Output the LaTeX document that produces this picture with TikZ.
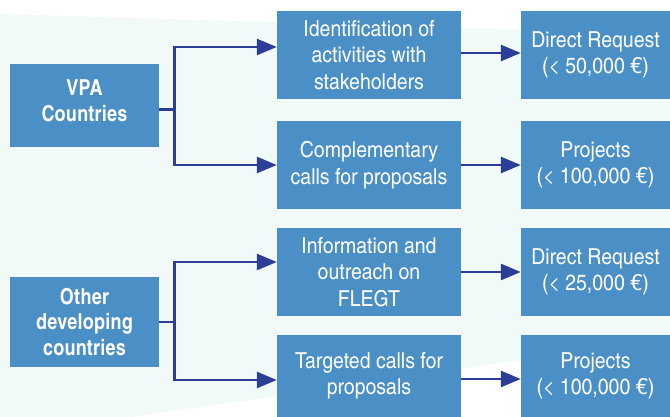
\documentclass[tikz,border=0pt]{standalone}
\usepackage{fontspec}
\setmainfont{texgyreheroscn-regular.otf}[FakeStretch=1.08]
\newfontfamily\leadfont{texgyreheroscn-bold.otf}[LetterSpace=1]
\usepackage{xcolor}
\usepackage{tikz}
\usetikzlibrary{calc,arrows.meta,positioning}
\definecolor{pale}{HTML}{F1F9F9}
\definecolor{boxblue}{HTML}{4A8FC5}
\definecolor{linkblue}{HTML}{2C3E98}
\tikzset{
  box/.style={fill=boxblue, text=white, align=center, inner sep=0pt,
    font=\fontsize{22pt}{26.5pt}\selectfont},
  lead/.style={box, minimum width=149pt, font=\leadfont\fontsize{22pt}{25.5pt}\selectfont},
  mid/.style={box, minimum width=184pt, minimum height=88pt},
  res/.style={box, minimum width=149pt, minimum height=88pt},
  link/.style={draw=linkblue, line width=2.6pt, line join=miter},
  tip/.style={link, -{Triangle[length=20pt,width=16pt]}},
}

\begin{document}
\begin{tikzpicture}[x=1pt,y=-1pt]
  \useasboundingbox (0,0) rectangle (670,417);
  \fill[pale] (0,14) -- (670,34) -- (670,338) -- (133,417) -- (0,417) -- cycle;
  % left column
  \node[lead,minimum height=83pt,text depth=10pt] (vpa) at (84.5,105.5) {VPA\\Countries};
  \node[lead,minimum height=90pt] (other) at (84.5,322) {Other\\developing\\countries};
  % middle column
  \node[mid] (ident) at (369,55) {Identification of\\activities with\\stakeholders};
  \node[mid] (compl) at (369,165) {Complementary\\calls for proposals};
  \node[mid] (info) at (369,272) {Information and\\outreach on\\FLEGT};
  \node[mid,minimum height=82pt] (target) at (369,376) {Targeted calls for\\proposals};
  % right column
  \node[res] (direct1) at (595.5,55) {Direct Request\\(< 50,000 €)};
  \node[res] (proj1) at (595.5,165) {Projects\\(< 100,000 €)};
  \node[res] (direct2) at (595.5,272) {Direct Request\\(< 25,000 €)};
  \node[res,minimum height=82pt] (proj2) at (595.5,376) {Projects\\(< 100,000 €)};
  % forks
  \draw[link] ([yshift=-4pt]vpa.east) -- ++(15,0) coordinate (forka);
  \draw[tip] (forka) |- ([yshift=8pt]ident.west);
  \draw[tip] (forka) |- (compl.west);
  \draw[link] (other.east) -- ++(15,0) coordinate (forkb);
  \draw[tip] (forkb) |- ([yshift=10pt]info.west);
  \draw[tip] (forkb) |- ([yshift=-4pt]target.west);
  % results
  \draw[tip] ([yshift=2pt]ident.east) -- ([yshift=2pt]direct1.west);
  \draw[tip] (compl.east) -- (proj1.west);
  \draw[tip] (info.east) -- (direct2.west);
  \draw[tip] ([yshift=-3pt]target.east) -- ([yshift=-3pt]proj2.west);
\end{tikzpicture}
\end{document}
